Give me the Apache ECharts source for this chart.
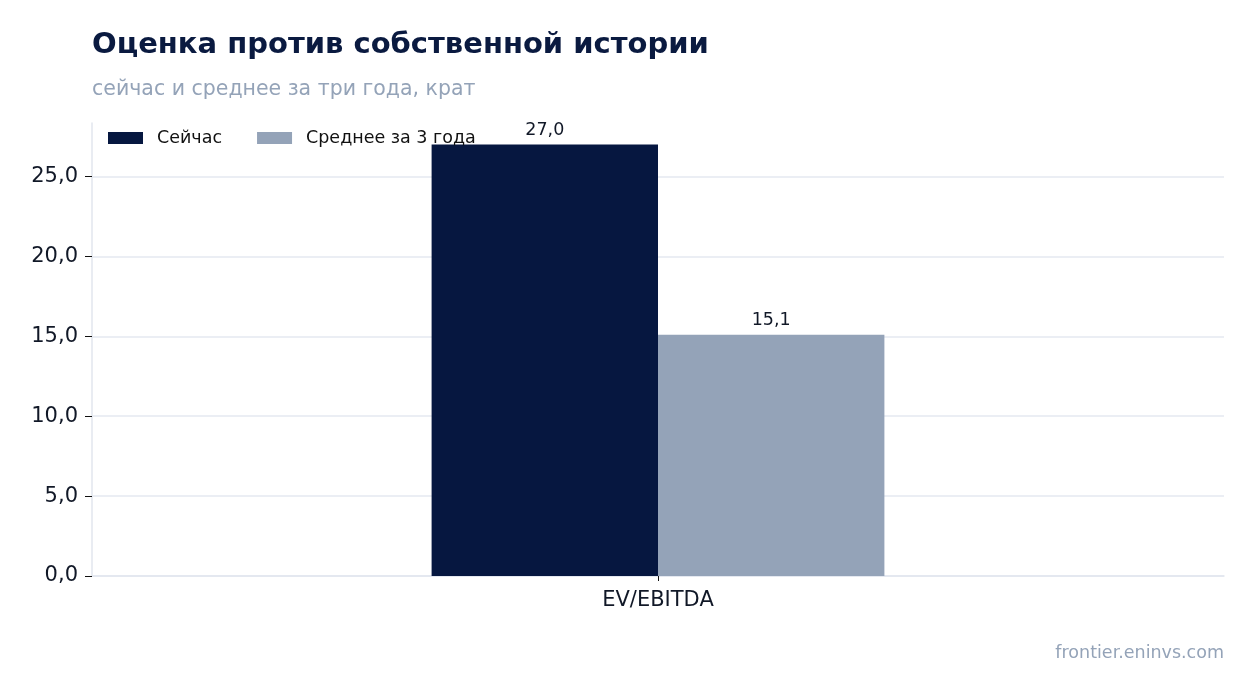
<!DOCTYPE html>
<html><head><meta charset="utf-8">
<script src="https://cdn.jsdelivr.net/npm/echarts@6/dist/echarts.min.js"></script>
<style>html,body{margin:0;padding:0;background:#fff}#c{width:1254px;height:693px}</style>
</head><body><div id="c"></div>
<script>
const categories = ['EV/EBITDA'];
const seriesNames = ['Сейчас', 'Среднее за 3 года'];
const nowValues = [27.0];
const avgValues = [15.1];
const yTicks = [0, 5, 10, 15, 20, 25];

const FONT = 'DejaVu Sans';
const fmt = v => v.toFixed(1).replace('.', ',');
const chart = echarts.init(document.getElementById('c'), null, {renderer: 'canvas'});
chart.setOption({
  backgroundColor: '#ffffff',
  animation: false,
  textStyle: {fontFamily: FONT},
  title: [
    {text: 'Оценка против собственной истории', left: 87, top: 26,
     textStyle: {fontFamily: FONT, fontSize: 29, fontWeight: 'bold', color: '#0a1a40'}},
    {text: 'сейчас и среднее за три года, крат', left: 87, top: 74,
     textStyle: {fontFamily: FONT, fontSize: 20.5, fontWeight: 'normal', color: '#94a3b8'}},
    {text: 'frontier.eninvs.com', right: 25, top: 639,
     textStyle: {fontFamily: FONT, fontSize: 17.5, fontWeight: 'normal', color: '#94a3b8'}}
  ],
  legend: {
    left: 103, top: 124, itemWidth: 35, itemHeight: 12, itemGap: 35,
    icon: 'rect',
    textStyle: {fontFamily: FONT, fontSize: 17.5, color: '#111111', padding: [0, 0, 0, 9]},
    data: seriesNames
  },
  grid: {left: 92, right: 30, top: 123, bottom: 117, containLabel: false},
  xAxis: {
    type: 'category', data: categories,
    axisLine: {show: true, lineStyle: {color: '#e2e6ee', width: 1.5}},
    axisTick: {show: true, alignWithLabel: true, length: 5, lineStyle: {color: '#111111'}},
    axisLabel: {fontFamily: FONT, fontSize: 21, color: '#111827', margin: 14}
  },
  yAxis: {
    type: 'value', min: 0, max: 28.35, interval: 5,
    axisLine: {show: true, lineStyle: {color: '#e2e6ee', width: 1.5}},
    axisTick: {show: true, length: 7, lineStyle: {color: '#111111'}, customValues: yTicks},
    axisLabel: {fontFamily: FONT, fontSize: 21, color: '#111827', margin: 14,
      customValues: yTicks, formatter: v => fmt(v)},
    splitLine: {show: true, lineStyle: {color: '#e5e8f0', width: 1.5}}
  },
  series: [
    {name: seriesNames[0], type: 'bar', data: nowValues, barGap: '0%', barCategoryGap: '60%',
     itemStyle: {color: '#061740'},
     label: {show: true, position: 'top', distance: 5, formatter: p => fmt(p.value),
       fontFamily: FONT, fontSize: 17.5, color: '#111827'}},
    {name: seriesNames[1], type: 'bar', data: avgValues, barGap: '0%', barCategoryGap: '60%',
     itemStyle: {color: '#94a3b8'},
     label: {show: true, position: 'top', distance: 5, formatter: p => fmt(p.value),
       fontFamily: FONT, fontSize: 17.5, color: '#111827'}}
  ]
});
</script></body></html>
